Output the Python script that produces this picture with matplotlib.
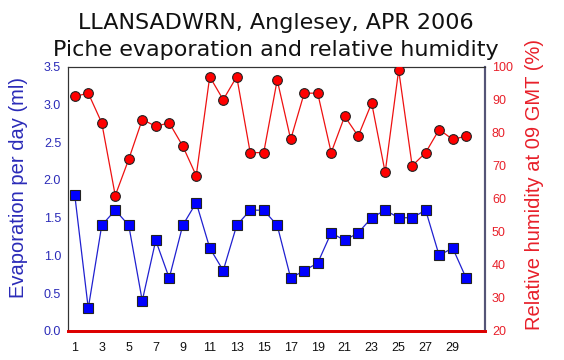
import matplotlib.pyplot as plt
import numpy as np

days = np.arange(1, 31)
evap = [1.8, 0.3, 1.4, 1.6, 1.4, 0.4, 1.2, 0.7, 1.4, 1.7,
        1.1, 0.8, 1.4, 1.6, 1.6, 1.4, 0.7, 0.8, 0.9, 1.3,
        1.2, 1.3, 1.5, 1.6, 1.5, 1.5, 1.6, 1.0, 1.1, 0.7]
humid = [91, 92, 83, 61, 72, 84, 82, 83, 76, 67,
         97, 90, 97, 74, 74, 96, 78, 92, 92, 74,
         85, 79, 89, 68, 99, 70, 74, 81, 78, 79]
xticks = list(range(1, 30, 2))
left_ticks = np.arange(0, 3.51, 0.5)
right_ticks = list(range(20, 101, 10))

blue = '#2b2bb8'
red = '#e8202a'

fig = plt.figure(figsize=(5.64, 3.6), dpi=100)
ax = fig.add_axes([0.1206, 0.0806, 0.7394, 0.734])
ax2 = ax.twinx()

ax.plot(days, evap, color='#2020d0', lw=0.9, marker='s', ms=6.5,
        mfc='#0000ff', mec='#222222', mew=0.8, zorder=3)
ax2.plot(days, humid, color='#ee1111', lw=0.9, marker='o', ms=7,
         mfc='#ff0000', mec='#222222', mew=0.8, zorder=3)

ax.set_xlim(0.5, 31.4)
ax.set_ylim(0, 3.5)
ax2.set_ylim(20, 100)
ax.set_xticks(xticks)
ax.set_yticks(left_ticks)
ax.set_yticklabels(['%.1f' % v for v in left_ticks])
ax2.set_yticks(right_ticks)

ax.tick_params(axis='x', length=0, pad=8, labelsize=9, labelcolor='#111111')
ax.tick_params(axis='y', length=0, pad=5, labelsize=9, labelcolor=blue)
ax2.tick_params(axis='y', length=0, pad=5, labelsize=9, labelcolor=red)
for t in ax.get_xticklabels() + ax.get_yticklabels() + ax2.get_yticklabels():
    t.set_family('Liberation Sans')

for a in (ax, ax2):
    a.spines['top'].set_color('#333333')
    a.spines['left'].set_color('#333333')
    a.spines['right'].set_color('#555577')
    a.spines['bottom'].set_color('#dd0000')
    a.spines['bottom'].set_linewidth(2)
    a.spines['right'].set_linewidth(1.5)

fig.text(19 / 564, 1 - 188 / 360, 'Evaporation per day (ml)', rotation=90,
         ha='center', va='center', color=blue, fontsize=14.5, family='Liberation Sans')
fig.text(535 / 564, 1 - 184 / 360, 'Relative humidity at 09 GMT (%)', rotation=90,
         ha='center', va='center', color=red, fontsize=14.5, family='Liberation Sans')

fig.text(0.4894, 0.936, 'LLANSADWRN, Anglesey, APR 2006', ha='center', va='center',
         fontsize=16, color='#111111')
fig.text(0.4894, 0.861, 'Piche evaporation and relative humidity', ha='center',
         va='center', fontsize=16, color='#111111')

fig.savefig('out.png', dpi=100)
